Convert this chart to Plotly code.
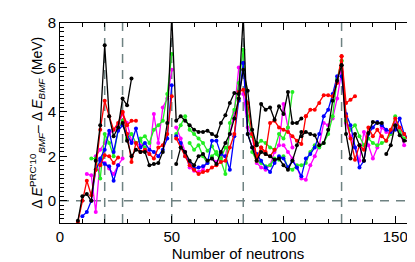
import plotly.graph_objects as go

# ---- data: each chain = (first neutron number, values every 2 neutrons) ----
black_chains = [
    (8, [-0.9, 0.2, 0.3, 0.0, 1.8, 3.4, 7.0, 3.8, 2.9, 3.3, 4.6, 4.3, 5.5]),
    (28, [3.5, 2.7, 2.0, 2.3, 2.2, 2.2, 1.6, 1.65, 1.7, 2.2, 3.5, 8.3]),
    (50, [8.3, 3.6, 3.8, 3.6, 3.4, 3.2, 3.1, 3.1, 3.15, 3.0, 2.9, 3.5, 3.85, 4.4, 4.85, 4.8, 8.3]),
    (52, [1.65, 2.4, 2.2, 1.8, 1.6, 2.0, 2.1, 1.8, 1.9, 1.65, 2.2, 2.6, 3.0, 3.7, 4.6, 5.9, 4.95, 3.2, 2.5]),
    (82, [8.3, 3.0, 2.4, 1.8, 2.2, 2.1, 2.0, 1.85, 1.9, 1.6, 1.4, 1.8, 2.5, 3.1]),
    (88, [2.6, 4.35, 4.1, 4.2, 3.65, 4.25, 3.9, 4.9, 3.5, 3.5, 3.7]),
    (108, [2.9, 3.1, 3.0, 2.95, 2.5, 2.6, 3.2, 4.5, 5.4, 6.1]),
    (126, [6.1, 3.0, 1.9, 3.0, 2.5, 1.8, 3.05, 3.55, 3.5, 3.5]),
    (146, [2.1, 2.5, 3.4, 2.95, 2.7, 2.7]),
]
red_chains = [
    (8, [-0.95, 0.0, 0.9, 0.25, 1.4, 3.2, 4.5, 3.8, 3.2, 3.5, 4.0, 3.4, 3.6, 3.6]),
    (18, [1.6, 2.05, 2.0, 1.7, 1.95]),
    (28, [4.0, 3.0, 1.75, 2.6, 2.2, 2.3, 2.1, 1.9, 2.4, 2.5, 3.0, 4.7]),
    (52, [2.8, 2.4, 2.0, 1.6, 1.4, 1.2, 1.3, 1.35, 1.5, 1.6, 1.75, 1.8, 2.4, 3.0, 4.9, 5.0, 4.4, 3.0, 2.0]),
    (88, [1.8, 2.4, 2.2, 3.5, 3.6, 3.3, 3.2, 3.1, 2.9, 2.7, 2.55, 3.8]),
    (110, [3.8, 4.1, 4.1, 4.4, 4.75, 4.75, 4.7, 5.3, 6.5, 4.4, 4.55, 4.7]),
    (86, [3.0, 1.9, 2.4, 2.1, 2.0, 2.3]),
    (126, [6.5, 3.8, 2.8, 1.85, 2.5, 2.3, 3.3, 2.9, 3.2, 2.9, 2.7, 3.2, 3.7, 3.3, 3.0, 2.7]),
]
green_chains = [
    (14, [1.9, 1.9, 1.0, 3.0, 2.6, 2.0, 3.2, 3.6, 2.8, 3.0, 2.6, 2.7, 2.4]),
    (36, [2.8, 2.9, 2.6, 3.2, 3.4, 3.6, 4.8, 6.6]),
    (52, [3.0, 3.4, 3.8, 3.2, 3.0, 2.8, 2.6, 2.25, 2.45, 2.1, 1.8, 1.2, 3.5, 4.1, 5.3, 6.8]),
    (58, [2.6, 2.3, 2.5, 2.0, 1.7, 2.0, 2.2, 1.9, 2.4]),
    (82, [6.8, 3.8, 2.9, 2.5, 2.7, 2.6, 2.4, 2.3, 3.0, 2.8, 3.3, 4.9]),
    (86, [2.2, 1.8, 1.7, 1.55, 1.6, 1.9, 1.85, 2.0, 1.5, 1.4, 1.6, 1.6, 1.7, 2.2, 2.5, 2.4, 2.6, 3.0, 3.8, 5.5, 6.3]),
    (126, [6.3, 3.6, 3.2, 3.4, 2.9, 2.5, 2.8, 2.6, 2.5, 2.6, 2.7, 3.0, 3.8, 3.1, 2.8, 2.9]),
]
blue_chains = [
    (10, [-0.7, -0.5, 0.0, 1.4, 1.8, 1.65, 1.55, 0.9, 1.6]),
    (18, [1.9, 2.3, 3.15, 2.2, 3.15, 3.4, 3.0, 2.6, 3.25, 2.4, 2.6, 2.3, 2.2, 2.0, 2.3, 2.8, 5.2]),
    (52, [2.9, 2.6, 2.0, 1.7, 1.45, 1.5, 1.55, 1.7, 2.7, 2.7, 2.1, 2.0, 1.4, 2.9, 4.5, 6.2]),
    (82, [6.2, 3.0, 2.4, 2.1, 1.8, 1.5, 1.3, 1.7, 2.0, 1.9, 1.5, 1.8, 1.5, 1.1, 1.9, 2.1, 2.4, 3.0, 3.8, 4.1, 4.8, 5.6]),
    (126, [5.6, 3.9, 3.4, 2.4, 1.5, 1.8, 3.0, 3.3, 3.55, 3.4, 3.2, 3.1, 3.2, 3.7, 3.0, 2.8]),
]
magenta_chains = [
    (12, [1.2, 1.15, -0.5, 1.85, 1.7, 1.45, 1.2, 1.6, 1.9]),
    (16, [2.0, 2.3, 2.6, 3.0, 3.2, 3.4, 3.9, 3.5, 2.7, 2.6, 2.5, 2.4, 2.1, 3.9, 2.6, 4.2, 4.6, 5.9]),
    (52, [3.3, 2.8, 2.2, 1.5, 1.35, 1.3, 1.4, 1.8, 1.9, 1.75, 1.95, 2.0, 3.0, 4.0, 6.0]),
    (82, [4.8, 3.3, 2.9, 1.7, 1.5, 1.4, 1.6, 2.2, 2.5, 4.35, 3.3, 2.4]),
    (100, [2.5, 2.2, 1.9, 1.5, 1.0, 0.95, 1.6, 2.0, 2.5, 3.5, 3.4, 3.7, 4.6, 5.8]),
    (126, [5.8, 3.5, 2.9, 2.4, 1.8, 3.1, 2.5, 1.9, 2.4, 3.3, 3.1, 3.0, 3.5, 3.1, 2.5]),
]
magic_numbers = [20, 28, 50, 82, 126]

x_ticks = [0, 50, 100, 150]
y_ticks = [0, 2, 4, 6, 8]

series = [
    ("magenta", "#ff00ff", magenta_chains),
    ("green", "#22ee22", green_chains),
    ("blue", "#0000ff", blue_chains),
    ("red", "#ff0000", red_chains),
    ("black", "#000000", black_chains),
]

fig = go.Figure()

grey = "#6e8282"
for n in magic_numbers:
    fig.add_shape(type="line", x0=n, x1=n, y0=0, y1=1, xref="x", yref="paper",
                  line=dict(color=grey, width=1.5, dash="9px,7px"), layer="below")
fig.add_shape(type="line", x0=0, x1=1, y0=0, y1=0, xref="paper", yref="y",
              line=dict(color=grey, width=1.5, dash="9px,7px"), layer="below")

for name, color, chains in series:
    xs, ys = [], []
    for start, vals in chains:
        for i, v in enumerate(vals):
            xs.append(start + 2 * i)
            ys.append(v)
        xs.append(None)
        ys.append(None)
    fig.add_trace(go.Scatter(x=xs, y=ys, mode="lines+markers", name=name,
                             line=dict(color=color, width=1.3),
                             marker=dict(color=color, size=4),
                             cliponaxis=True, connectgaps=False))

font = "Liberation Sans, Arial, Helvetica, sans-serif"
fig.update_layout(
    width=415, height=262,
    margin=dict(l=52, r=6, t=11, b=47),
    paper_bgcolor="white", plot_bgcolor="white",
    showlegend=False,
    font=dict(family=font, size=15, color="black"),
)
fig.update_xaxes(
    range=[0, 159.3], tickvals=x_ticks, ticks="inside", ticklen=7, tickwidth=1,
    tickcolor="black",
    showline=True, linecolor="black", linewidth=1, mirror="ticks",
    showgrid=False, zeroline=False,
    minor=dict(ticks="inside", dtick=10, tick0=0, ticklen=4, tickwidth=1,
               tickcolor="black", showgrid=False),
    title=dict(text="Number of neutrons", standoff=4, font=dict(size=15)),
    tickfont=dict(size=15),
)
fig.update_yaxes(
    range=[-1, 8], tickvals=y_ticks, ticks="inside", ticklen=7, tickwidth=1,
    tickcolor="black",
    showline=True, linecolor="black", linewidth=1, mirror="ticks",
    showgrid=False, zeroline=False,
    minor=dict(ticks="inside", dtick=0.2, tick0=0, ticklen=4, tickwidth=1,
               tickcolor="black", showgrid=False),
    tickfont=dict(size=15),
)
fig.add_annotation(
    text="Δ <i>E</i><sup>PRC'10</sup><sub><i>BMF</i></sub>– Δ <i>E</i><sub><i>BMF</i></sub> (MeV)",
    xref="paper", yref="paper", x=-0.065, y=0.5, xanchor="center", yanchor="middle",
    textangle=-90, showarrow=False, font=dict(size=14, family=font),
)

fig.write_html("out.html")
